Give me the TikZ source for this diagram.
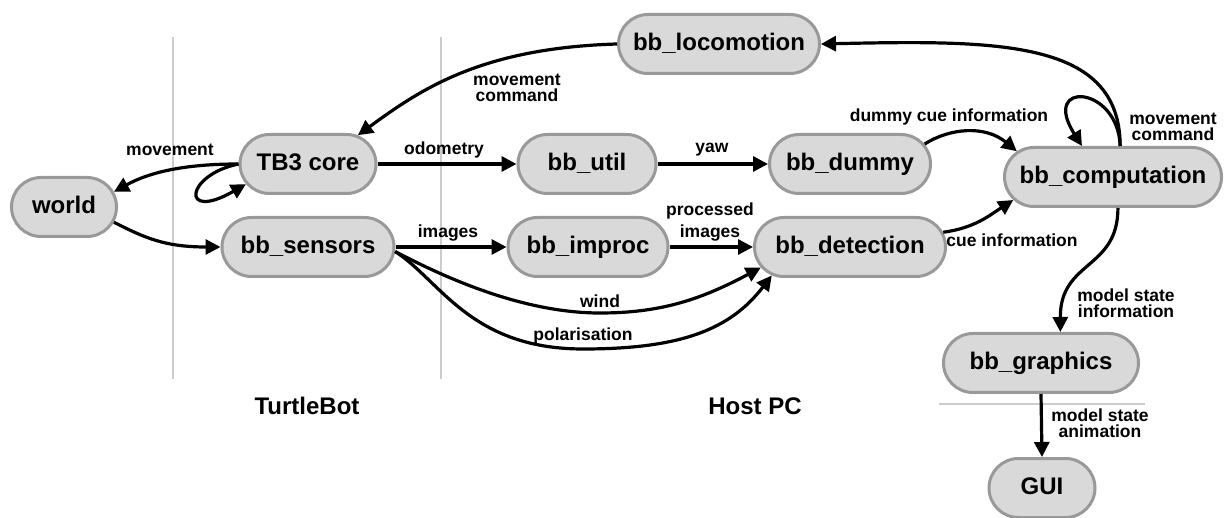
\documentclass[tikz,border=0pt]{standalone}
\usepackage{fontspec}
\setmainfont{Liberation Sans}
\usetikzlibrary{shapes.misc,arrows.meta}
\definecolor{boxfill}{HTML}{D9D9D9}
\definecolor{boxline}{HTML}{999999}
\definecolor{divline}{HTML}{CCCCCC}
\newcommand\boxtext[1]{\makebox[0pt]{#1}}
\begin{document}
\begin{tikzpicture}[x=1pt,y=-1pt,
  box/.style={rounded rectangle, draw=boxline, fill=boxfill, line width=3pt,
    minimum height=59pt, inner sep=0pt, text height=17.5pt, text depth=5pt,
    font=\fontsize{24}{28}\selectfont\bfseries},
  flow/.style={line width=3.2pt, -{Triangle[length=15pt,width=15pt]}},
  lbl/.style={font=\fontsize{17.5}{16}\selectfont\bfseries, align=center, inner sep=0pt},
  title/.style={font=\fontsize{24}{28}\selectfont\bfseries, inner sep=0pt},
  divider/.style={draw=divline, line width=2.5pt}]
\useasboundingbox (0,0) rectangle (1226,518);
% dividers
\draw[divider] (173,37) -- (173,379);
\draw[divider] (441,37) -- (441,379);
\draw[divider] (939,404) -- (1145,404);
% nodes
\node[box, minimum width=105] (world) at (64,207) {\boxtext{world}};
\node[box, minimum width=136] (tb3) at (308,164) {\boxtext{TB3 core}};
\node[box, minimum width=172] (sensors) at (308,247) {\boxtext{bb\_sensors}};
\node[box, minimum width=201] (loc) at (719,44) {\boxtext{bb\_locomotion}};
\node[box, minimum width=138] (util) at (587,164) {\boxtext{bb\_util}};
\node[box, minimum width=161] (dummy) at (850,164) {\boxtext{bb\_dummy}};
\node[box, minimum width=160] (improc) at (588,247) {\boxtext{bb\_improc}};
\node[box, minimum width=191] (det) at (850,247) {\boxtext{bb\_detection}};
\node[box, minimum width=217] (comp) at (1113,177) {\boxtext{bb\_computation}};
\node[box, minimum width=195] (graph) at (1041,363) {\boxtext{bb\_graphics}};
\node[box, minimum width=106] (gui) at (1042,488) {\boxtext{GUI}};
% titles
\node[title] (tturtle) at (307,406) {TurtleBot};
\node[title] (thost) at (755,406) {Host PC};
% edges
\draw[flow] (tb3.west) .. controls (185,164) and (150,172) .. (world.17);
\draw[flow] (tb3.west) .. controls (185,175) and (180,222) .. (tb3.198);
\draw[flow] (world.-17) .. controls (145,238) and (165,247) .. (sensors.west);
\draw[flow] (tb3.east) -- (util.west);
\draw[flow] (util.east) -- (dummy.west);
\draw[flow] (sensors.east) -- (improc.west);
\draw[flow] (improc.east) -- (det.west);
\draw[flow] (sensors.-3) .. controls (440,275) and (520,313) .. (600,313)
  .. controls (660,313) and (700,300) .. (det.193);
\draw[flow] (sensors.-3) .. controls (440,280) and (470,349) .. (583,349)
  .. controls (680,349) and (730,330) .. (det.200);
\draw[flow] (loc.west) .. controls (480,48) and (420,90) .. (tb3.30);
\draw[flow] (dummy.15) .. controls (950,128) and (985,125) .. (comp.165);
\draw[flow] (det.9) .. controls (975,228) and (990,215) .. (comp.193);
\draw[flow] (comp.77) .. controls (1118,85) and (1040,80) .. (comp.135);
\draw[flow] (comp.77) .. controls (1120,40) and (1000,40) .. (loc.east);
\draw[flow] (comp.-81) .. controls (1118,270) and (1060,260) .. (graph.58);
\draw[flow] (graph.south) -- (gui.north);
% labels
\node[lbl] (lmove) at (170,150) {movement};
\node[lbl] (lmovecmd) at (517,88) {movement\\command};
\node[lbl] (lodo) at (444,150) {odometry};
\node[lbl] (lyaw) at (712,150) {yaw};
\node[lbl] (limg) at (448,233) {images};
\node[lbl] (lproc) at (710,222) {processed\\[5pt]images};
\node[lbl] (lwind) at (600,301) {wind};
\node[lbl] (lpol) at (583,336) {polarisation};
\node[lbl] (ldummy) at (949,117) {dummy cue information};
\node[lbl] (lcue) at (1012,240) {cue information};
\node[lbl] (lcmd2) at (1173,127) {movement\\command};
\node[lbl] (lmsi) at (1126,303) {model state\\information};
\node[lbl] (lmsa) at (1100,423) {model state\\animation};
\end{tikzpicture}
\end{document}
